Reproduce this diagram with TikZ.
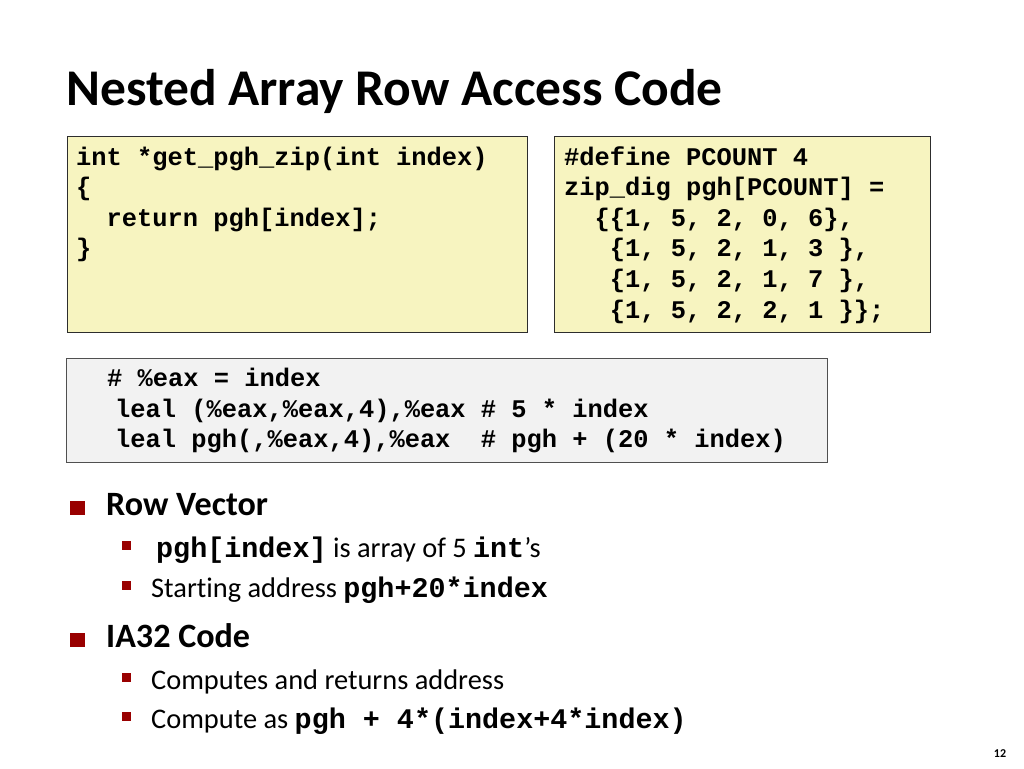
\documentclass[tikz,border=0pt]{standalone}
\usepackage{fontspec}
\setmainfont{Carlito}[Ligatures={NoCommon}]
\setmonofont{Liberation Mono}
\definecolor{codeyellow}{RGB}{247,244,192}
\definecolor{asmgray}{RGB}{242,242,242}
\definecolor{boxborder}{RGB}{45,45,45}
\definecolor{asmborder}{RGB}{80,80,80}
\definecolor{bulletred}{RGB}{153,0,0}
\newcommand\mycode[1]{{\ttfamily\bfseries #1}}
\tikzset{
  codebox/.style={draw=boxborder, line width=1.3pt, fill=codeyellow, anchor=north west, inner sep=0pt},
  asmbox/.style={draw=asmborder, line width=1.3pt, fill=asmgray, anchor=north west, inner sep=0pt},
  codeline/.style={anchor=base west, inner sep=0pt, font=\fontsize{25.4}{30}\selectfont\ttfamily\bfseries},
  titletext/.style={anchor=base west, inner sep=0pt, font=\fontsize{51.5}{60}\selectfont\bfseries},
  levelone/.style={anchor=base west, inner sep=0pt, font=\fontsize{34.1}{40}\selectfont\bfseries},
  leveltwo/.style={anchor=base west, inner sep=0pt, font=\fontsize{28.4}{34}\selectfont},
  bigbullet/.style={fill=bulletred, inner sep=0pt, minimum size=14.5pt},
  smallbullet/.style={fill=bulletred, inner sep=0pt, minimum size=8.5pt},
  pagenum/.style={anchor=base, inner sep=0pt, font=\fontsize{12}{14}\selectfont\bfseries}
}
\begin{document}
\begin{tikzpicture}[x=1pt,y=-1pt]
\useasboundingbox (0,0) rectangle (1024,768);
\fill[white] (0,0) rectangle (1024,768);

% title
\node[titletext] (title) at (66,105) {Nested Array Row Access Code};

% C function box
\node[codebox, minimum width=460pt, minimum height=196pt] (fnbox) at (67,136) {};
\node[codeline] (f1) at (76,165) {int *get\_pgh\_zip(int index)};
\node[codeline] (f2) at (76,195.6) {\{};
\node[codeline] (f3) at (76,226.2) {~~return pgh[index];};
\node[codeline] (f4) at (76,256.8) {\}};

% array definition box
\node[codebox, minimum width=376pt, minimum height=196pt] (defbox) at (554,136) {};
\node[codeline] (d1) at (564,165) {\#define PCOUNT 4};
\node[codeline] (d2) at (564,195.6) {zip\_dig pgh[PCOUNT] =};
\node[codeline] (d3) at (564,226.2) {~~\{\{1, 5, 2, 0, 6\},};
\node[codeline] (d4) at (564,256.8) {~~~\{1, 5, 2, 1, 3 \},};
\node[codeline] (d5) at (564,287.4) {~~~\{1, 5, 2, 1, 7 \},};
\node[codeline] (d6) at (564,318) {~~~\{1, 5, 2, 2, 1 \}\};};

% assembly box
\node[asmbox, minimum width=761pt, minimum height=104pt] (asmbox) at (66,358) {};
\node[codeline] (a1) at (107,386) {\# \%eax = index};
\node[codeline] (a2) at (115,417) {leal (\%eax,\%eax,4),\%eax \# 5 * index};
\node[codeline] (a3) at (115,447) {leal pgh(,\%eax,4),\%eax~~\# pgh + (20 * index)};

% bullets
\node[bigbullet] (b1) at (77.5,507.8) {};
\node[levelone] (t1) at (106,515) {Row Vector};
\node[smallbullet] (b11) at (126.5,545.5) {};
\node[leveltwo] (t11) at (151,557) {\hspace*{5pt}\mycode{pgh[index]} is array of 5 \mycode{int}’s};
\node[smallbullet] (b12) at (126.5,585.5) {};
\node[leveltwo] (t12) at (151,597) {Start\kern0pt ing address \mycode{pgh+20*index}};

\node[bigbullet] (b2) at (77.5,639.8) {};
\node[levelone] (t2) at (106,647) {IA32 Code};
\node[smallbullet] (b21) at (126.5,677.5) {};
\node[leveltwo] (t21) at (151,689) {Computes and returns address};
\node[smallbullet] (b22) at (126.5,716.5) {};
\node[leveltwo] (t22) at (151,728) {Compute as \mycode{pgh + 4*(index+4*index)}};

% page number
\node[pagenum] (num) at (1000,757) {12};
\end{tikzpicture}
\end{document}
